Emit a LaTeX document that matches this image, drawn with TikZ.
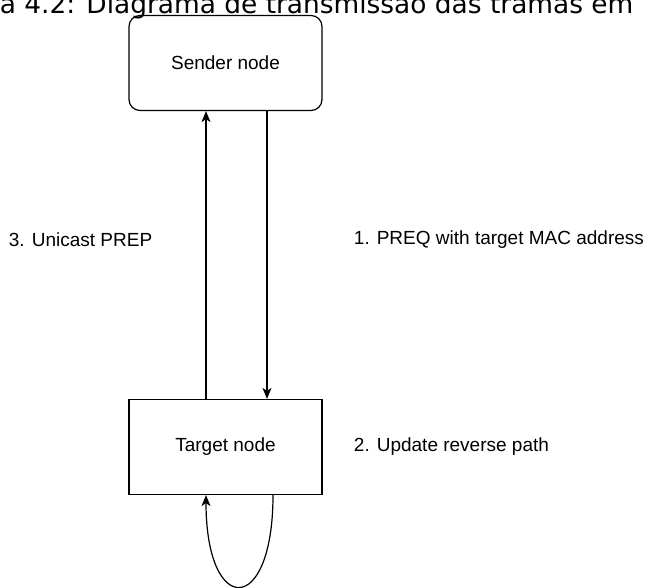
\documentclass[tikz,border=0pt]{standalone}
\usepackage{fontspec}
\setmainfont{Liberation Sans}
\newfontfamily\capfont{DejaVu Sans}
\usetikzlibrary{arrows.meta,positioning}

\begin{document}
\begin{tikzpicture}[x=1pt, y=-1pt, line width=1.2pt,
    every node/.style={font=\fontsize{19}{22}\selectfont},
    box/.style={draw, minimum width=193pt, minimum height=95pt, inner sep=0pt}]
  \clip (0,0) rectangle (645,588);
  \node[anchor=base east, font=\capfont\fontsize{26.4}{30}\selectfont, inner sep=0pt] (C) at (634,14) {a 4.2: Diagrama de transmissão das tramas em};
  \node[box, rounded corners=11pt] (S) at (225.5,63) {Sender node};
  \node[box] (T) at (225.5,447) {Target node};
  \draw[-{Stealth[length=11pt, width=9pt, inset=3pt]}] ([xshift=41.5pt]S.south) -- ([xshift=41.5pt]T.north);
  \draw[-{Stealth[length=11pt, width=9pt, inset=3pt]}] ([xshift=-19.5pt]T.north) -- ([xshift=-19.5pt]S.south);
  \draw[-{Stealth[length=11pt, width=9pt, inset=3pt]}] ([xshift=47.5pt]T.south) .. controls ++(0,122) and ++(0,122) .. ([xshift=-19.5pt]T.south);
  \node[anchor=west] (L3) at (5,240) {3. Unicast PREP};
  \node[anchor=west] (L1) at (350,240) {1. PREQ with target MAC address};
  \node[anchor=west] (L2) at (350,447) {2. Update reverse path};
\end{tikzpicture}
\end{document}
